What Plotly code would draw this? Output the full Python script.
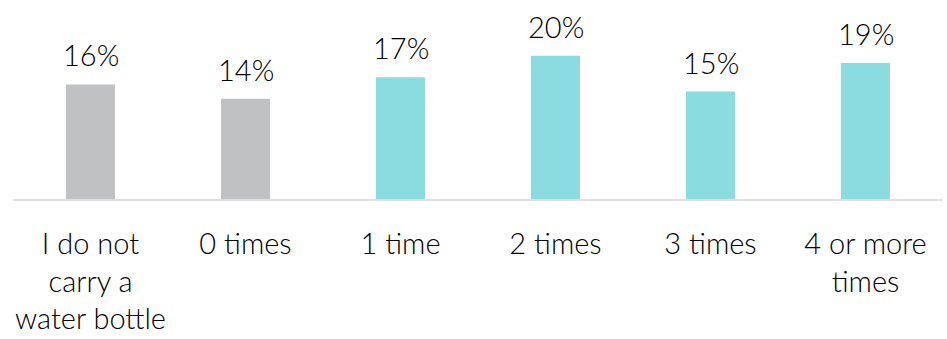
import plotly.graph_objects as go

categories = ["I do not<br>carry a<br>water bottle", "0 times", "1 time", "2 times", "3 times", "4 or more<br>times"]
values = [0.16, 0.14, 0.17, 0.20, 0.15, 0.19]
colors = ["#c0c1c3", "#c0c1c3", "#8adce0", "#8adce0", "#8adce0", "#8adce0"]

font = dict(family="Lato", size=29, color="#000000", weight=300)

fig = go.Figure(go.Bar(
    x=categories, y=values, marker=dict(color=colors, line=dict(width=0)),
    cliponaxis=False,
))
for c, v in zip(categories, values):
    fig.add_annotation(x=c, y=v, text=f"{v:.0%}", showarrow=False,
                       yanchor="bottom", yshift=10, font=font)
fig.update_layout(
    width=947, height=339, margin=dict(l=13, r=4, t=20, b=140),
    paper_bgcolor="white", plot_bgcolor="white", bargap=0.684,
    showlegend=False, font=font,
)
fig.update_xaxes(showline=True, linecolor="#e0e0e0", linewidth=2, ticks="",
                 ticklabelstandoff=18, automargin=False, tickfont=font)
fig.update_yaxes(range=[0, 0.25], visible=False, showgrid=False, zeroline=False)
fig.write_html("out.html")
